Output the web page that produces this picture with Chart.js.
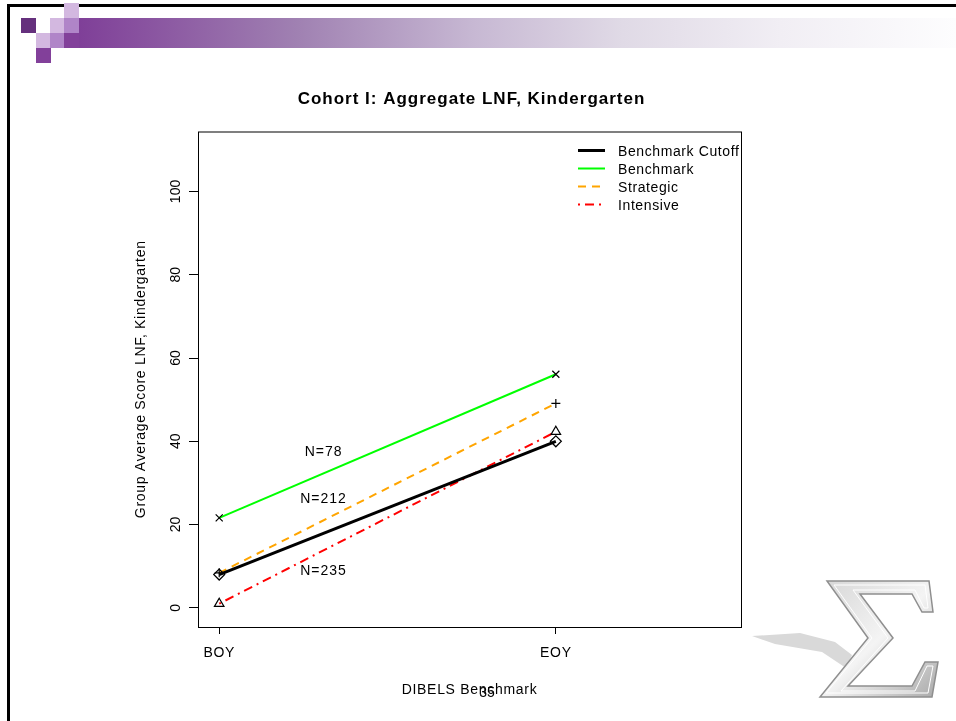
<!DOCTYPE html>
<html>
<head>
<meta charset="utf-8">
<title>Cohort I: Aggregate LNF, Kindergarten</title>
<script src="https://cdn.jsdelivr.net/npm/chart.js@4/dist/chart.umd.min.js"></script>
<style>
  html, body { margin: 0; padding: 0; background: #fff; }
  body { width: 956px; height: 721px; position: relative; overflow: hidden; font-family: Arial, "Liberation Sans", sans-serif; }
  #frame { position: absolute; left: 7px; top: 4px; width: 1000px; height: 800px; border: 3px solid #000; box-sizing: border-box; }
  .sq { position: absolute; width: 15px; height: 15px; }
  #bar { position: absolute; left: 79px; top: 18px; width: 877px; height: 30px;
    background: linear-gradient(to right, #7f3f98 0%, #a081b2 25%, #c7b8d3 45%, #e0dae6 62%, #f1eef4 80%, #fdfdfe 100%); }
  #chartBox { position: absolute; left: 0; top: 0; width: 956px; height: 721px; }
  #logo { position: absolute; left: 0; top: 0; }
  #pageNo { position: absolute; left: 470px; top: 684px; width: 34px; text-align: center; font-size: 14px; color: #000; }
</style>
</head>
<body>
<div id="frame"></div>
<div class="sq" style="left:64px;top:3px;background:#d3b8e0"></div>
<div class="sq" style="left:21px;top:18px;background:#65307d"></div>
<div class="sq" style="left:50px;top:18px;background:#d3b8e0"></div>
<div class="sq" style="left:64px;top:18px;background:#b085c8"></div>
<div class="sq" style="left:36px;top:33px;background:#d3b8e0"></div>
<div class="sq" style="left:50px;top:33px;background:#b085c8"></div>
<div class="sq" style="left:64px;top:33px;background:#82409a"></div>
<div class="sq" style="left:36px;top:48px;background:#82409a"></div>
<div id="bar"></div>

<svg id="logo" width="956" height="721">
  <defs>
    <linearGradient id="sg" x1="0" y1="0" x2="1" y2="1">
      <stop offset="0" stop-color="#d6d6d6"/>
      <stop offset="0.5" stop-color="#f4f4f4"/>
      <stop offset="1" stop-color="#a9a9a9"/>
    </linearGradient>
  </defs>
  <polygon points="752,636 800,633 835,642 852,655 846,668 822,652 775,644" fill="#d9d9d9"/>
  <polygon points="827,581 929,581 933,612 922,612 912,594 860,594 893,638 848,686 912,686 925,662 938,662 932,697 820,697 868,638"
           fill="url(#sg)" stroke="#8f8f8f" stroke-width="1.5"/>
  <polygon points="834,585 925,585 928,608 924,608 915,590 853,590 888,638 841,691 915,691 927,666 933,666 928,693 826,693 872,638"
           fill="none" stroke="#ffffff" stroke-width="1"/>
</svg>

<div id="chartBox"><canvas id="lnfChart" width="956" height="721"></canvas></div>
<div id="pageNo">35</div>

<script>
// x positions of the two benchmark periods
const categories = ['BOY', 'EOY'];
const catPos = [1, 2];

const seriesNames = ['Benchmark Cutoff', 'Benchmark', 'Strategic', 'Intensive'];
const cutoffValues = [8.0, 40.0];
const benchmarkValues = [21.6, 56.1];
const strategicValues = [8.4, 49.1];
const intensiveValues = [1.0, 42.3];

const yTickValues = [0, 20, 40, 60, 80, 100];

// group size labels
const nLabels = ['N=78', 'N=212', 'N=235'];
const nLabelX = 1.31;
const nLabelY = [37.3, 26.0, 8.9];

const chartTitle = 'Cohort I: Aggregate LNF, Kindergarten';
const FONT = 'Arial, "Liberation Sans", sans-serif';

function toPoints(values) {
  return values.map((v, i) => ({ x: catPos[i], y: v }));
}

// R-style box, rotated y labels, N labels, title and legend
const rStyle = {
  id: 'rStyle',
  beforeLayout(chart) {
    chart.ctx.letterSpacing = '0.7px';
  },
  beforeDraw(chart) {
    chart.ctx.letterSpacing = '0.7px';
  },
  afterDraw(chart) {
    const { ctx, chartArea: a, scales: { x, y } } = chart;
    ctx.save();
    ctx.strokeStyle = '#000';
    ctx.lineWidth = 1;
    ctx.strokeRect(a.left + 0.5, a.top + 0.5, a.right - a.left, a.bottom - a.top);

    ctx.fillStyle = '#000';
    ctx.font = '14px ' + FONT;
    ctx.letterSpacing = '0px';
    ctx.textAlign = 'center';
    ctx.textBaseline = 'middle';
    yTickValues.forEach(v => {
      ctx.save();
      ctx.translate(a.left - 22, y.getPixelForValue(v));
      ctx.rotate(-Math.PI / 2);
      ctx.fillText(String(v), 0, 0);
      ctx.restore();
    });

    ctx.letterSpacing = '1px';
    nLabels.forEach((t, i) => {
      ctx.fillText(t, x.getPixelForValue(nLabelX), y.getPixelForValue(nLabelY[i]));
    });

    ctx.font = 'bold 17px ' + FONT;
    ctx.letterSpacing = '1px';
    ctx.fillText(chartTitle, (a.left + a.right) / 2 + 2, a.top - 32);

    // legend, no box
    ctx.font = '14px ' + FONT;
    ctx.letterSpacing = '0.6px';
    ctx.textAlign = 'left';
    chart.data.datasets.forEach((ds, i) => {
      const ty = a.top + 20.5 + i * 18;
      ctx.save();
      ctx.strokeStyle = ds.borderColor;
      ctx.lineWidth = ds.borderWidth;
      ctx.setLineDash(ds.borderDash || []);
      ctx.beginPath();
      ctx.moveTo(a.right - 163, ty - 1.5);
      ctx.lineTo(a.right - 136, ty - 1.5);
      ctx.stroke();
      ctx.restore();
      ctx.fillText(ds.label, a.right - 123, ty);
    });
    ctx.restore();
  }
};

const datasetStyle = [
  { color: '#000000', width: 3, dash: [], marker: 'rectRot', r: 5.5 },
  { color: '#00ff00', width: 2, dash: [], marker: 'crossRot', r: 5 },
  { color: '#ffa500', width: 2, dash: [8, 6], marker: 'cross', r: 4.5 },
  { color: '#ff0000', width: 2, dash: [2, 5, 9, 5], marker: 'triangle', r: 5.5 }
];
const seriesValues = [cutoffValues, benchmarkValues, strategicValues, intensiveValues];

new Chart(document.getElementById('lnfChart'), {
  type: 'line',
  data: {
    datasets: seriesNames.map((name, i) => ({
      label: name,
      data: toPoints(seriesValues[i]),
      borderColor: datasetStyle[i].color,
      borderWidth: datasetStyle[i].width,
      borderDash: datasetStyle[i].dash,
      tension: 0,
      fill: false,
      pointStyle: datasetStyle[i].marker,
      pointRadius: datasetStyle[i].r,
      pointBorderColor: '#000',
      pointBackgroundColor: 'rgba(0,0,0,0)',
      pointBorderWidth: 1.2
    }))
  },
  options: {
    responsive: false,
    animation: false,
    layout: { padding: { top: 131.5, right: 215, bottom: 0, left: 0 } },
    plugins: {
      legend: { display: false },
      tooltip: { enabled: false },
      title: { display: false }
    },
    scales: {
      x: {
        type: 'linear',
        min: 0.937,
        max: 2.55,
        afterBuildTicks: s => { s.ticks = catPos.map(v => ({ value: v })); },
        afterFit: s => { s.height = 94; },
        grid: { drawOnChartArea: false, drawTicks: true, tickLength: 7, color: '#000', tickColor: '#000' },
        border: { display: false },
        ticks: {
          color: '#000',
          font: { size: 14, family: FONT },
          padding: 11,
          maxRotation: 0,
          autoSkip: false,
          callback: v => categories[catPos.indexOf(v)]
        },
        title: {
          display: true,
          text: 'DIBELS Benchmark',
          color: '#000',
          font: { size: 14, family: FONT },
          padding: { top: 0, bottom: 22.6 }
        }
      },
      y: {
        min: -4.6,
        max: 114.4,
        afterBuildTicks: s => { s.ticks = yTickValues.map(v => ({ value: v })); },
        afterFit: s => { s.width = 198; },
        grid: { drawOnChartArea: false, drawTicks: true, tickLength: 9, color: '#000', tickColor: '#000' },
        border: { display: false },
        ticks: { display: false },
        title: {
          display: true,
          text: 'Group Average Score LNF, Kindergarten',
          color: '#000',
          font: { size: 14, family: FONT },
          padding: { top: 132.6, bottom: 0 }
        }
      }
    }
  },
  plugins: [rStyle]
});
</script>
</body>
</html>
